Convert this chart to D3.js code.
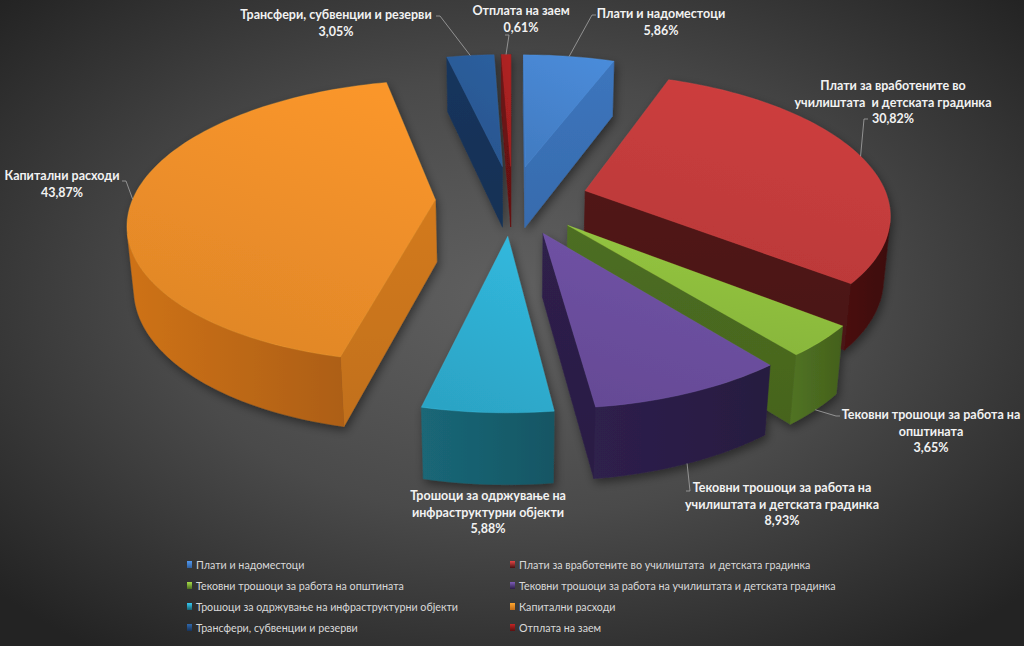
<!DOCTYPE html>
<html>
<head>
<meta charset="utf-8">
<script src="https://cdn.jsdelivr.net/npm/d3@7"></script>
<style>
  body { margin: 0; background: #333; }
  svg { display: block; font-family: Lato, "Open Sans", sans-serif; }
</style>
</head>
<body>
<svg id="chart" width="1024" height="646"></svg>
<script>
// --- data ---
const categories = [
  "Плати и надоместоци",
  "Плати за вработените во училиштата  и детската градинка",
  "Тековни трошоци за работа на општината",
  "Тековни трошоци за работа на училиштата и детската градинка",
  "Трошоци за одржување на инфраструктурни објекти",
  "Капитални расходи",
  "Трансфери, субвенции и резерви",
  "Отплата на заем"
];
const values = [5.86, 30.82, 3.65, 8.93, 5.88, 43.87, 3.05, 0.61];
const labelLines = [
  ["Плати и надоместоци"],
  ["Плати за вработените во", "училиштата  и детската градинка"],
  ["Тековни трошоци за работа на", "општината"],
  ["Тековни трошоци за работа на", "училиштата и детската градинка"],
  ["Трошоци за одржување на", "инфраструктурни објекти"],
  ["Капитални расходи"],
  ["Трансфери, субвенции и резерви"],
  ["Отплата на заем"]
];

// --- layout / style ---
const W = 1024, H = 646;
const topColors  = ["#4785d0", "#c63c3c", "#90c03e", "#6c50a0", "#2fb0d4", "#f0902a", "#2a5a96", "#a82020"];
const wallColors = ["#2f5f9e", "#441010", "#4b6b20", "#2b1e47", "#18606f", "#c06a16", "#16335a", "#5a1010"];
const cutColors  = ["#3a71b6", "#4e1414", "#4a6a20", "#2c1f48", "#1a6475", "#cc761c", "#16335a", "#6a1212"];
// label centre x / first baseline, and where its leader leaves the text
const labelAt   = [[661, 18], [893, 90], [931, 419], [782, 492], [488, 500], [62, 180], [336, 19], [521, 15]];
const labelHook = [[596, 15], [868, 119], [840, 416], [686, 491], null, [122, 181], [436, 16], [505, 35]];

// perspective camera for the tilted pie
const k = 303, cx = 512, cy = 200;
const sinP = 0.4554, cosP = Math.sqrt(1 - sinP * sinP);
const persp = 0.1685, explode = 0.253, depth = 0.235;
const camera = [0, -cosP / persp, sinP / persp];

function project([x, y, z]) {
  const w = 1 + persp * (y * cosP - z * sinP);
  return [cx + k * x / w, cy - k * (y * sinP + z * cosP) / w];
}

const svg = d3.select("#chart");
const defs = svg.append("defs");

const bg = defs.append("radialGradient").attr("id", "bg")
  .attr("cx", "50%").attr("cy", "46%").attr("r", "68%");
[[0, "#606060"], [0.5, "#4a4a4a"], [1, "#232323"]].forEach(([o, c]) =>
  bg.append("stop").attr("offset", o).attr("stop-color", c));
svg.append("rect").attr("width", W).attr("height", H).attr("fill", "url(#bg)");

const shadow = defs.append("filter").attr("id", "shadow")
  .attr("x", "-20%").attr("y", "-20%").attr("width", "140%").attr("height", "140%");
shadow.append("feDropShadow").attr("dx", 2).attr("dy", 4)
  .attr("stdDeviation", 5).attr("flood-color", "#000").attr("flood-opacity", 0.45);

function gradient(id, c0, c1, x1, y1, x2, y2) {
  const g = defs.append("linearGradient").attr("id", id)
    .attr("x1", x1).attr("y1", y1).attr("x2", x2).attr("y2", y2);
  g.append("stop").attr("offset", 0).attr("stop-color", c0);
  g.append("stop").attr("offset", 1).attr("stop-color", c1);
  return `url(#${id})`;
}

const fills = values.map((v, i) => ({
  top: gradient("top" + i, d3.color(topColors[i]).brighter(0.12), d3.color(topColors[i]).darker(0.2), 0.7, 0, 0.3, 1),
  wall: gradient("wall" + i, d3.color(wallColors[i]).brighter(0.2), d3.color(wallColors[i]).darker(0.3), 0, 0, 1, 0),
  cut: gradient("cut" + i, d3.color(cutColors[i]).brighter(0.1), d3.color(cutColors[i]).darker(0.15), 0, 0, 0, 1),
  legend: gradient("leg" + i, d3.color(topColors[i]).brighter(0.4), wallColors[i], 0, 0, 0, 1)
}));

const arcs = d3.pie().sort(null).value(d => d)(values);
const line = d3.line();
const facing = (nx, ny, p) => nx * (camera[0] - p[0]) + ny * (camera[1] - p[1]) > 0;

const slices = arcs.map((a, i) => {
  const a0 = a.startAngle, a1 = a.endAngle, m = (a0 + a1) / 2;
  const ox = explode * Math.sin(m), oy = explode * Math.cos(m);
  const rim = (t, z) => [ox + Math.sin(t), oy + Math.cos(t), z];
  const n = Math.max(2, Math.ceil((a1 - a0) / (Math.PI / 120)));
  const ts = d3.range(n + 1).map(j => a0 + (a1 - a0) * j / n);
  const apexT = [ox, oy, 0], apexB = [ox, oy, -depth];
  const faces = [];

  const mid0 = rim(a0, 0), mid1 = rim(a1, 0);
  if (facing(-Math.cos(a0), Math.sin(a0), [(ox + mid0[0]) / 2, (oy + mid0[1]) / 2]))
    faces.push({ type: "cut", pts: [apexT, rim(a0, 0), rim(a0, -depth), apexB] });
  if (facing(Math.cos(a1), -Math.sin(a1), [(ox + mid1[0]) / 2, (oy + mid1[1]) / 2]))
    faces.push({ type: "cut", pts: [apexT, rim(a1, 0), rim(a1, -depth), apexB] });

  let run = [];
  const flush = () => {
    if (run.length > 1) {
      faces.push({ type: "wall", pts: [...run.map(t => rim(t, 0)), ...run.slice().reverse().map(t => rim(t, -depth))] });
    }
    run = [];
  };
  for (let j = 0; j < n; j++) {
    const tm = (ts[j] + ts[j + 1]) / 2;
    if (facing(Math.sin(tm), Math.cos(tm), rim(tm, 0))) {
      if (!run.length) run.push(ts[j]);
      run.push(ts[j + 1]);
    } else flush();
  }
  flush();

  faces.push({ type: "top", pts: [apexT, ...ts.map(t => rim(t, 0))] });

  const c = [ox + 0.55 * Math.sin(m), oy + 0.55 * Math.cos(m), -depth / 2];
  const dist = Math.hypot(c[0] - camera[0], c[1] - camera[1], c[2] - camera[2]);
  const front = Math.cos(m) < 0;
  return { i, faces, dist, anchor: project(rim(m, front ? -depth : 0)) };
});

const pie = svg.append("g").attr("filter", "url(#shadow)");
slices.slice().sort((a, b) => b.dist - a.dist).forEach(s => {
  const g = pie.append("g");
  const order = { cut: 0, wall: 1, top: 2 };
  s.faces.sort((a, b) => order[a.type] - order[b.type]).forEach(f => {
    const fill = fills[s.i][f.type];
    g.append("path")
      .attr("d", line(f.pts.map(project)) + "Z")
      .attr("fill", fill)
      .attr("stroke", f.type === "top" ? d3.color(topColors[s.i]).brighter(0.5) : fill)
      .attr("stroke-opacity", f.type === "top" ? 0.35 : 1)
      .attr("stroke-width", f.type === "top" ? 0.8 : 0.5)
      .attr("stroke-linejoin", "round");
  });
});

// data labels
const fmt = d3.formatLocale({ decimal: ",", thousands: ".", grouping: [3], currency: ["", ""] }).format(".2f");
const labels = svg.append("g")
  .attr("font-size", "12.5px").attr("font-weight", 700).attr("fill", "#f2f2f2")
  .attr("text-anchor", "middle");

values.forEach((v, i) => {
  const [lx, ly] = labelAt[i];
  const t = labels.append("text").attr("x", lx).attr("y", ly).style("white-space", "pre");
  [...labelLines[i], fmt(v) + "%"].forEach((s, j) => {
    t.append("tspan").attr("x", lx).attr("dy", j ? 16.5 : 0).text(s);
  });
  const hook = labelHook[i];
  if (hook) {
    const [ax, ay] = slices[i].anchor;
    const step = ax > hook[0] ? 4 : -4;
    svg.append("path")
      .attr("d", line([hook, [hook[0] + step, hook[1]], [ax, ay]]))
      .attr("fill", "none").attr("stroke", "#a6a6a6").attr("stroke-width", 0.8);
  }
});

// legend
const legend = svg.append("g").attr("font-size", "10.7px").attr("fill", "#d9d9d9");
categories.forEach((c, i) => {
  const x = i % 2 ? 512 : 189, y = 565 + Math.floor(i / 2) * 21;
  legend.append("rect").attr("x", x - 2).attr("y", y - 4).attr("width", 5).attr("height", 7)
    .attr("fill", fills[i].legend);
  legend.append("text").attr("x", x + 7).attr("y", y + 4)
    .style("white-space", "pre").text(c);
});
</script>
</body>
</html>
